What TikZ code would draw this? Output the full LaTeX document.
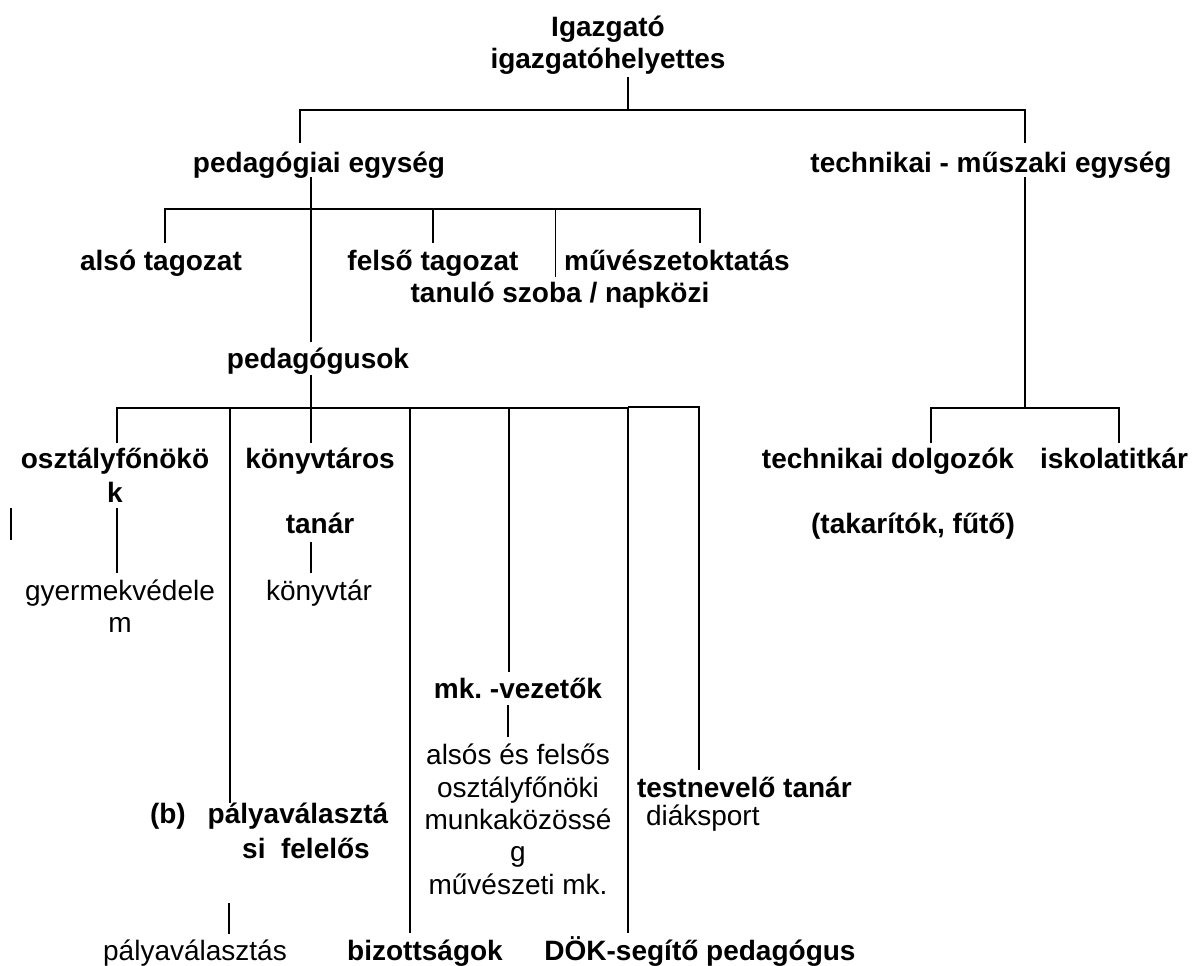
\documentclass[tikz,border=0pt]{standalone}
\usepackage{fontspec}
\setmainfont{Liberation Sans}
\frenchspacing
\begin{document}
\begin{tikzpicture}[x=1pt,y=-1pt,
  every node/.style={inner sep=0pt,outer sep=0pt,font=\fontsize{28}{32.5}\selectfont},
  bt/.style={anchor=base,font=\fontsize{28}{32.5}\selectfont\bfseries},
  nt/.style={anchor=base},
  ln/.style={line width=1.4pt},
  thinln/.style={line width=0.8pt}]
\useasboundingbox (0,0) rectangle (1195,966);
% ---- texts
\node[bt] (ig1) at (608,37) {Igazgató};
\node[bt] (ig2) at (608,69) {igazgatóhelyettes};
\node[bt] (ped) at (319,172) {pedagógiai egység};
\node[bt] (tech) at (991,172) {technikai - műszaki egység};
\node[bt] (also) at (161,270) {alsó tagozat};
\node[bt] (felso) at (433,270) {felső tagozat};
\node[bt] (muv) at (677,270) {művészetoktatás};
\node[bt] (tanulo) at (560,302) {tanuló szoba / napközi};
\node[bt] (pedus) at (318,368) {pedagógusok};
\node[bt] (of1) at (115,468) {osztályfőnökö};
\node[bt] (of2) at (115,502) {k};
\node[nt] (gy1) at (120,600) {gyermekvédele};
\node[nt] (gy2) at (120,632) {m};
\node[bt] (kt1) at (320,468) {könyvtáros};
\node[bt] (kt2) at (320,533) {tanár};
\node[nt] (ktar) at (319,600) {könyvtár};
\node[bt] (mkv) at (518,698) {mk. -vezetők};
\node[nt] (mk1) at (518,764) {alsós és felsős};
\node[nt] (mk2) at (518,797) {osztályfőnöki};
\node[nt] (mk3) at (518,829) {munkaközössé};
\node[nt] (mk4) at (518,861) {g};
\node[nt] (mk5) at (518,894) {művészeti mk.};
\node[bt,anchor=base west] (tn) at (637,797) {testnevelő tanár};
\node[nt,anchor=base west] (diak) at (646,825) {diáksport};
\node[bt,anchor=base west] (b) at (150,823) {(b)};
\node[bt] (pv1) at (298,823) {pályaválasztá};
\node[bt] (pv2) at (306,858) {si\ \ felelős};
\node[nt] (pvas) at (195,960) {pályaválasztás};
\node[bt] (biz) at (425,960) {bizottságok};
\node[bt] (dok) at (700,960) {DÖK-segítő pedagógus};
\node[bt] (tdol) at (888,468) {technikai dolgozók};
\node[bt] (iskt) at (1114,468) {iskolatitkár};
\node[bt] (tak) at (913,533) {(takarítók, fűtő)};
% ---- connector points
\coordinate (igb) at (628,77);
\coordinate (topj) at (628,110);
\coordinate (pedt) at (300,143);
\coordinate (techt) at (1025,143);
\coordinate (pedb) at (311,177);
\coordinate (bar2) at (311,209);
\coordinate (alsot) at (165,243);
\coordinate (felsot) at (433,243);
\coordinate (tanulot) at (555,277);
\coordinate (muvt) at (700,243);
\coordinate (pedust) at (311,342);
\coordinate (pedusb) at (311,375);
\coordinate (bar3) at (311,408);
\coordinate (oft) at (117,443);
\coordinate (pvt) at (230,803);
\coordinate (ktt) at (311,443);
\coordinate (bizt) at (410,933);
\coordinate (mkvt) at (509,672);
\coordinate (dokt) at (628,933);
\coordinate (dokj) at (628,408);
\coordinate (dokj2) at (628,407);
\coordinate (tnt) at (699,770);
\coordinate (ofb) at (117,508);
\coordinate (gyt) at (117,573);
\coordinate (s1) at (11,508);
\coordinate (s2) at (11,540);
\coordinate (kt2b) at (311,542);
\coordinate (ktart) at (311,573);
\coordinate (mkvb) at (508,705);
\coordinate (mk1t) at (508,737);
\coordinate (pv2b) at (229,903);
\coordinate (pvast) at (229,934);
\coordinate (techb) at (1025,177);
\coordinate (rbar) at (1025,408);
\coordinate (tdolt) at (931,443);
\coordinate (isktt) at (1119,443);
% ---- connectors
\draw[ln] (igb) -- (topj);
\draw[ln] (pedt) |- (topj) -| (techt);
\draw[ln] (pedb) -- (pedust);
\draw[ln] (alsot) |- (bar2) -| (muvt);
\draw[ln] (felsot) -- (felsot |- bar2);
\draw[thinln] (tanulot) -- (tanulot |- bar2);
\draw[ln] (pedusb) -- (bar3);
\draw[ln] (oft) |- (dokj);
\draw[ln] (dokj2) -| (tnt);
\draw[ln] (pvt) -- (pvt |- bar3);
\draw[ln] (ktt) -- (bar3);
\draw[ln] (bizt) -- (bizt |- bar3);
\draw[ln] (mkvt) -- (mkvt |- bar3);
\draw[ln] (dokt) -- (dokj);
\draw[ln] (ofb) -- (gyt);
\draw[line width=1.1pt] (s1) -- (s2);
\draw[ln] (kt2b) -- (ktart);
\draw[ln] (mkvb) -- (mk1t);
\draw[ln] (pv2b) -- (pvast);
\draw[ln] (techb) -- (rbar);
\draw[ln] (tdolt) |- (rbar) -| (isktt);
\end{tikzpicture}
\end{document}
